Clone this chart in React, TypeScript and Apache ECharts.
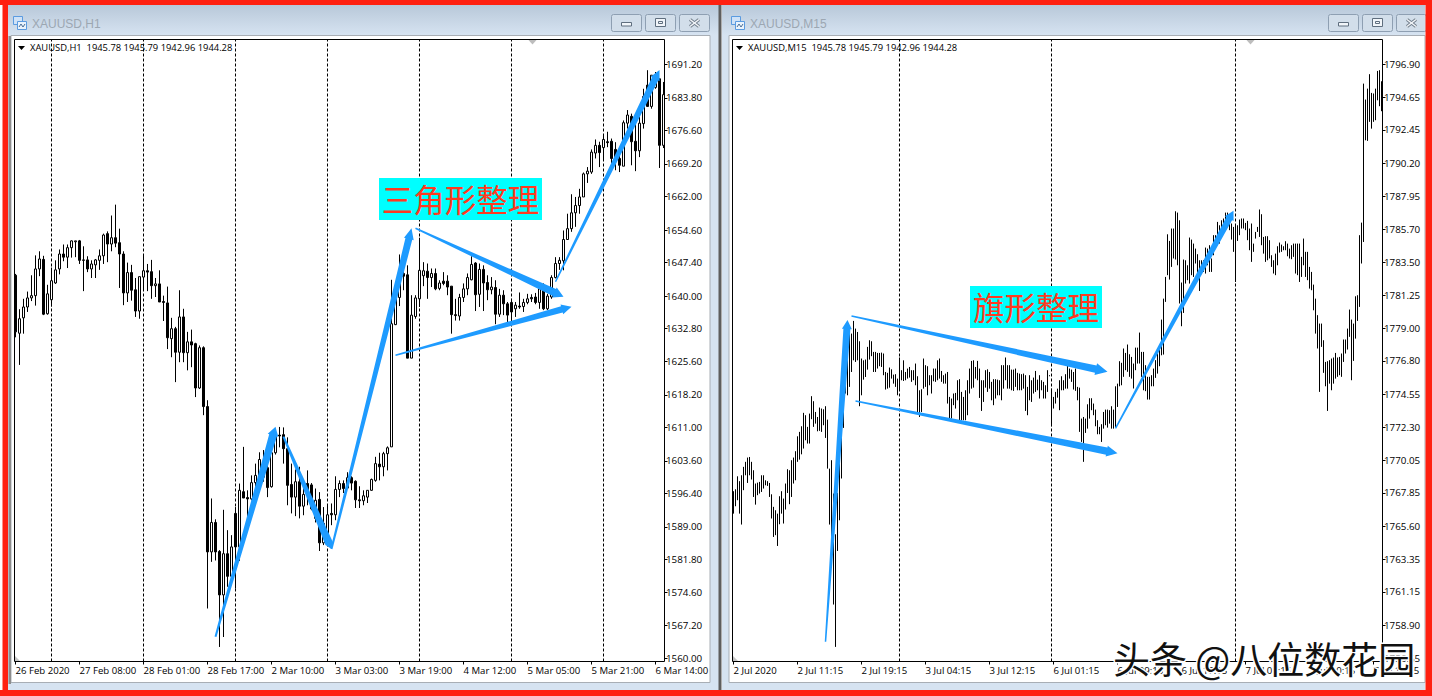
import React, { useEffect, useRef } from "react";
import * as echarts from "echarts";

// ---------- H1 chart: [open, close, low, high] ----------
const h1FebCandles: number[][] = [
  [1644.6,1632.1,1630.9,1644.9],[1631.8,1635,1624.8,1637.1],[1635.2,1637.6,1631.7,1639.4],[1637.6,1639.6,1636.5,1641],
  [1639.6,1640.1,1638.9,1644.6],[1640.1,1646,1637.9,1649],[1646,1648.2,1644.4,1649.9],[1648.1,1636,1635.8,1648.9],
  [1636.1,1640.5,1635.9,1642.5],[1639.2,1643.4,1637.7,1646.3],[1642.9,1645.8,1642.7,1647.9],[1646,1649.3,1644.8,1650.3],
  [1649.3,1648.6,1647.7,1651.4],[1648.6,1650.7,1646.2,1651.4],[1650.7,1652.2,1648.5,1652.3],[1652,1652.2,1648.6,1652.2],
  [1652.2,1647.9,1647.1,1652.4],[1648,1647.9,1641.1,1651],[1648,1646,1645.3,1648.8],[1646,1647.1,1644,1647.9],
  [1646.9,1648,1644,1648.2],[1647.9,1648.9,1645.8,1650.3],[1648.9,1653.5,1647.1,1653.8],[1653.8,1651.5,1647.5,1654.3],
  [1651.5,1652.9,1649.9,1657.8],[1652.9,1651.7,1650.8,1660.2],[1651.8,1649.3,1641.8,1654.9],[1649.3,1640.7,1638,1649.9],
  [1640.7,1645.2,1638.7,1647.4],[1645.2,1641.3,1639,1646.9],[1641.4,1636.7,1635.4,1644],[1636.7,1644.3,1635,1644.3],
  [1644.2,1645.6,1641.3,1649.3],[1645.6,1645.3,1641.1,1647.1],[1645.4,1642.3,1639.4,1648],[1642.3,1642.7,1639.8,1644],
  [1642.7,1638.7,1638.7,1645.7],[1638.8,1638.6,1634.5,1640.1],[1638.5,1630.8,1628.3,1642.1],[1630.6,1632.8,1626.5,1635.2],
  [1632.8,1627.6,1621,1633.2],[1627.6,1635.4,1625.4,1641.3],[1635.4,1627.5,1625.4,1637.2],[1627.5,1629.9,1623.6,1632.1],
  [1629.9,1629.2,1624.3,1632.6],[1629.5,1619.7,1617.7,1629.7],[1619.7,1628.6,1619.5,1629.1],[1628.6,1615.6,1613.7,1628.9],
  [1615.6,1583.5,1571,1617],
];
const h1TurnCandles: number[][] = [
  [1583.5,1590,1581.3,1595.3],[1590,1583.5,1581.6,1590.7],[1583.6,1574,1562.5,1583.9],[1574,1583.1,1564.7,1592.8],
  [1583.1,1578.1,1575.8,1588.3],[1578.1,1584.6,1578,1587.2],[1592,1584.6,1575.4,1593.4],[1584.6,1597.1,1581.5,1598.6],
  [1596.8,1595.4,1595.4,1606.7],[1595.5,1595.2,1591.2,1597.1],[1595.2,1598.8,1594.9,1600.4],[1598.8,1600.4,1596.7,1603],
  [1600.4,1603.9,1599,1605.5],[1600,1602.5,1599,1606],[1602.1,1597.7,1595.6,1606],[1597.9,1605.4,1597.7,1606.7],
  [1605.4,1609,1605,1610],[1609.3,1609.1,1606.6,1611.1],[1609.4,1606.3,1603,1611],[1606.3,1598.2,1593.8,1608.8],
  [1598.4,1595.6,1592,1603],[1595.6,1599,1591.4,1601.7],[1599,1593.6,1590.9,1602.3],[1593.6,1596.2,1591.6,1599.3],
  [1598.6,1596.4,1593.8,1601.5],[1598.3,1593,1592.7,1598.7],[1590.9,1594.9,1590,1597.5],[1595.1,1585.5,1583.7,1596.7],
  [1585.5,1589.8,1585,1593.4],[1587.5,1591.7,1585.3,1593.8],[1592,1591.7,1589.4,1594.2],[1591.7,1597.3,1590.5,1600.2],
  [1597.3,1598.6,1595.6,1599.3],[1598.6,1597.5,1596.5,1599.3],[1597.6,1599.9,1597.4,1601.1],[1599.9,1598.7,1597.1,1600.2],
  [1599.1,1595,1593.2,1599.3],[1595,1594.8,1593.2,1598],[1594.8,1595.9,1593.8,1597.1],[1595.6,1597.1,1594.3,1597.1],
  [1597.1,1599.5,1597,1599.7],[1599.3,1603,1599,1604.5],[1602.9,1602.3,1599.3,1605.4],[1602.3,1605.2,1600.2,1605.6],
  [1605.2,1606.5,1601.5,1606.8],[1606.7,1633.9,1606.7,1643.6],
];
const h1MarCandles: number[][] = [
  [1633.7,1640.5,1633.6,1641.3],[1639.7,1644.6,1637.8,1649.2],[1645,1644.4,1641.3,1647.2],[1644.7,1626.3,1626.3,1646.8],
  [1626.3,1635.8,1626.3,1640.2],[1635.5,1639.6,1635,1640.2],[1639.4,1645.7,1637.6,1652.9],[1644.5,1645.6,1642.2,1647.5],
  [1645.5,1644.1,1639.4,1647.2],[1644.1,1645,1642,1646.1],[1645,1641.6,1641.3,1646.1],[1641.7,1642.9,1641.3,1643.5],
  [1643.3,1642.8,1642.4,1645.3],[1643.3,1642,1640.2,1644.6],[1642.2,1635.9,1631.7,1642.2],[1635.9,1635.7,1634.6,1639.4],
  [1635.6,1639.7,1634.6,1640.5],[1639.7,1641.6,1638.7,1642.8],[1641.6,1644.1,1640.2,1645],[1643.6,1647,1643.5,1648.8],
  [1647.3,1640.3,1636.7,1647.5],[1640.4,1645.9,1637.6,1647.2],[1645.9,1642.9,1636.7,1646.8],[1643,1641.4,1639.1,1644.6],
  [1641.4,1642,1640.4,1644.2],[1641.9,1636,1633.8,1643.5],[1636,1640.2,1635.4,1641.6],[1640.2,1638.3,1635.8,1641.3],
  [1638.3,1635.8,1634.1,1638.7],[1638.6,1636.5,1634.6,1639.4],[1637.2,1638,1635.4,1638.7],[1637.8,1637.6,1637.2,1640.8],
  [1637.7,1638.6,1636.5,1639.4],[1638.6,1639.4,1638.2,1640.5],[1639.7,1639.4,1638.7,1640.4],[1639.8,1638.6,1638.2,1640.7],
  [1638.6,1641.6,1637.2,1642],[1641.6,1637.2,1636.9,1642.8],[1637.2,1640,1636.9,1640.5],[1639.8,1644.1,1639.4,1644.6],
  [1644.1,1647.2,1643.9,1648.6],[1647.2,1647.9,1645.8,1648.6],[1647.8,1652.5,1645.7,1654.5],[1652.5,1654.9,1652.4,1658.2],
  [1654.9,1658.4,1654.2,1662.5],[1658.4,1660,1655.3,1661.9],[1660,1661.9,1658.2,1663.7],[1661.9,1667,1661.9,1667.3],
  [1667,1667.6,1665,1668.5],[1667.4,1671.8,1667,1672.4],[1671.6,1673.3,1670.4,1674.6],[1673.3,1671.7,1668.5,1674.1],
  [1672.8,1674.6,1670.2,1675.5],[1674.1,1673.9,1672.9,1676.3],[1674.2,1670.4,1669.3,1674.8],[1672.4,1670.4,1667.8,1674],
  [1670.4,1668.9,1667.4,1671.5],[1668.7,1678.3,1668.7,1678.8],[1678.2,1680,1677,1681.1],[1679.7,1674.1,1668.9,1680.3],
  [1674.2,1672.1,1667.6,1679.6],[1672.1,1678.2,1670.7,1679.6],[1678.1,1684.1,1677,1685.8],[1686.6,1681.9,1681.8,1689.9],
  [1681.9,1688.8,1681.4,1688.8],[1686.1,1688.6,1685.8,1689.5],[1688,1673.3,1668.3,1688],[1673.3,1684.5,1672.7,1687.3],
];
const h1PriceTicks = [1560,1567.2,1574.6,1581.8,1589,1596.4,1603.6,1611,1618.2,1625.6,1632.8,1640,1647.4,1654.6,1662,1669.2,1676.6,1683.8,1691.2];
const h1TimeLabels = ["26 Feb 2020","27 Feb 08:00","28 Feb 01:00","28 Feb 17:00","2 Mar 10:00","3 Mar 03:00","3 Mar 19:00","4 Mar 12:00","5 Mar 05:00","5 Mar 21:00","6 Mar 14:00"];
const h1SessionBars = [9,32,55,78,101,124,147];
// tail bar, tail price, head bar, head price
const h1Arrows: number[][] = [
  [50.3,1564.77,64.875,1611.16],[67.375,1608.95,78.8,1584.14],[78.8,1584.14,99.2,1654.98],
  [100.1,1654.98,136.95,1639.87],[94.6,1626.93,139.2,1637.66],[134.9,1643.18,161.1,1689.94],
];

// ---------- M15 chart: highs and lows ----------
const m15High = [
1767.97,1768.10,1768.98,1768.65,1769.05,1769.62,1769.96,1770.25,1770.29,1769.96,1769.39,1768.49,1768.55,1768.60,1769.05,1769.05,1768.71,1768.65,1768.53,1767.76,
1766.91,1766.68,1766.45,1767.63,1767.97,1767.47,1768.49,1769.46,1769.39,1770.07,1770.25,1770.68,1771.69,1771.99,1772.37,1773.28,1773.12,1772.33,1773.23,1774.41,
1774.07,1773.34,1773.00,1773.64,1773.57,1773.52,1773.73,1772.82,1769.50,1770.07,1767.81,1765.05,1767.85,1770.29,1772.10,1773.91,1777.30,1778.20,1778.76,1778.65,
1779.51,1778.99,1778.76,1778.13,1776.96,1776.84,1776.89,1777.75,1778.20,1778.13,1777.41,1777.41,1777.34,1777.34,1777.36,1777.30,1776.05,1775.99,1776.35,1776.23,
1775.87,1775.90,1775.60,1777.03,1776.17,1776.84,1776.05,1776.28,1776.39,1776.17,1776.17,1776.62,1775.76,1774.81,1774.88,1776.96,1776.51,1776.44,1775.83,1775.83,
1776.28,1776.28,1776.84,1776.96,1776.12,1775.83,1775.94,1776.05,1774.36,1774.25,1774.59,1774.63,1775.49,1775.56,1774.70,1774.36,1774.81,1775.49,1776.28,1776.80,
1776.84,1776.39,1776.80,1776.28,1775.49,1775.49,1776.17,1776.23,1776.05,1775.38,1775.56,1775.56,1775.53,1775.49,1776.51,1776.51,1777.03,1776.51,1776.51,1776.21,
1776.21,1776.28,1775.99,1775.94,1775.90,1775.94,1775.83,1775.04,1775.83,1775.49,1775.67,1776.12,1775.53,1775.83,1775.49,1775.38,1775.15,1776.17,1775.83,1774.92,
1774.36,1774.70,1774.92,1775.49,1775.76,1775.49,1775.90,1776.46,1776.28,1776.21,1776.05,1776.28,1775.04,1774.99,1772.89,1773.00,1772.89,1773.86,1774.27,1774.27,
1773.91,1773.50,1772.78,1772.33,1772.51,1773.34,1773.50,1773.50,1773.46,1773.73,1773.50,1775.08,1775.26,1776.78,1776.67,1777.64,1777.34,1777.91,1777.25,1777.07,
1776.62,1777.70,1777.70,1778.72,1777.41,1777.41,1776.51,1775.72,1775.72,1775.83,1776.28,1776.85,1777.30,1777.75,1779.60,1781.02,1782.49,1785.38,1784.93,1785.77,
1785.77,1786.94,1786.85,1786.33,1782.11,1783.67,1783.62,1783.28,1785.16,1785.02,1784.75,1784.41,1784.03,1783.62,1783.62,1783.62,1784.48,1784.41,1784.64,1783.74,
1785.32,1785.32,1786.22,1785.99,1786.33,1786.45,1786.85,1786.85,1786.33,1786.11,1785.88,1785.99,1785.99,1786.38,1786.45,1786.45,1786.15,1786.29,1785.77,1786.11,
1784.75,1785.54,1785.88,1787.06,1786.74,1785.20,1785.25,1785.25,1784.98,1783.96,1783.62,1784.07,1784.57,1784.82,1784.68,1784.57,1784.91,1784.75,1784.41,1784.64,
1784.75,1784.75,1784.75,1784.75,1783.85,1785.09,1784.19,1784.19,1783.17,1782.83,1781.97,1781.02,1779.90,1779.33,1779.33,1778.20,1776.73,1776.78,1776.85,1776.96,
1777.03,1777.34,1777.03,1777.07,1777.30,1778.25,1778.25,1778.99,1780.28,1779.60,1779.33,1781.18,1781.25,1785.32,1786.17,1795.59,1794.51,1795.25,1796.23,1794.96,
1794.92,1795.25,1796.45,1796.50,1795.75,
];
const m15Low = [
1766.45,1766.95,1767.36,1766.45,1765.71,1768.04,1769.05,1768.53,1769.05,1768.76,1767.58,1767.06,1767.70,1767.81,1767.92,1768.15,1768.37,1768.33,1767.58,1766.12,
1764.87,1764.99,1764.26,1765.73,1766.45,1765.78,1766.73,1767.85,1767.09,1767.58,1768.49,1768.71,1769.96,1770.11,1770.47,1770.86,1771.42,1771.20,1771.20,1772.85,
1772.33,1772.55,1772.03,1772.06,1771.99,1772.44,1771.58,1769.50,1765.71,1762.80,1760.29,1757.42,1763.92,1766.00,1768.83,1772.26,1774.59,1774.47,1775.04,1776.05,
1776.84,1776.73,1776.84,1773.73,1774.47,1775.53,1775.71,1776.21,1776.89,1777.12,1776.05,1776.05,1776.28,1776.44,1776.39,1775.83,1774.86,1774.92,1774.99,1775.60,
1775.26,1775.04,1774.47,1774.81,1775.49,1775.44,1775.49,1775.60,1775.67,1775.38,1775.49,1775.15,1773.23,1773.00,1773.34,1774.92,1775.04,1774.47,1775.15,1774.59,
1775.42,1775.38,1775.49,1775.60,1775.38,1775.26,1775.26,1773.91,1772.89,1772.89,1773.80,1773.57,1774.13,1772.78,1772.78,1772.78,1772.78,1773.12,1774.59,1774.92,
1774.99,1775.60,1775.49,1774.29,1773.41,1774.02,1774.99,1774.70,1774.92,1774.13,1773.80,1774.25,1774.47,1774.47,1774.13,1774.92,1775.49,1774.92,1774.92,1774.81,
1774.77,1775.04,1774.81,1774.81,1774.81,1774.92,1773.41,1773.12,1774.13,1774.02,1774.59,1774.70,1774.81,1774.25,1774.81,1774.25,1774.25,1774.70,1775.76,1772.37,
1773.57,1773.91,1774.31,1773.46,1774.81,1774.81,1774.92,1774.92,1775.60,1775.38,1774.86,1774.77,1774.13,1771.99,1771.31,1769.96,1771.92,1772.21,1772.89,1773.46,
1773.12,1772.37,1771.83,1771.83,1771.31,1772.21,1772.44,1772.28,1772.55,1772.21,1772.21,1772.33,1773.68,1775.08,1775.15,1775.72,1776.17,1776.06,1775.72,1775.60,
1774.93,1776.17,1776.62,1776.62,1775.72,1774.81,1774.75,1774.18,1774.18,1775.08,1775.08,1775.65,1775.94,1776.44,1777.18,1777.23,1780.80,1782.61,1782.31,1783.17,
1783.74,1783.67,1783.28,1780.69,1779.15,1780.05,1782.04,1782.27,1782.04,1782.61,1782.49,1783.40,1782.31,1781.54,1783.06,1782.83,1782.72,1783.28,1782.83,1782.83,
1783.96,1784.53,1784.86,1784.75,1785.43,1785.54,1785.66,1786.22,1785.66,1785.02,1784.19,1782.15,1784.93,1785.32,1785.77,1785.77,1785.66,1784.98,1784.30,1783.51,
1784.19,1785.09,1785.54,1785.20,1784.64,1784.07,1783.51,1783.62,1783.74,1783.17,1782.72,1782.61,1783.28,1784.14,1784.19,1784.30,1784.30,1783.89,1783.74,1783.69,
1783.85,1782.72,1782.61,1782.15,1782.49,1783.28,1782.49,1782.27,1781.70,1781.59,1780.23,1778.65,1777.64,1774.70,1777.75,1775.99,1775.08,1773.41,1775.26,1774.81,
1775.26,1775.60,1775.72,1775.83,1775.72,1776.73,1777.30,1777.57,1778.43,1775.49,1776.80,1778.31,1779.51,1780.46,1783.40,1784.86,1791.75,1791.71,1793.00,1792.54,
1793.00,1793.11,1794.46,1794.06,1793.72,
];
const m15PriceTicks = [1756.65,1758.9,1761.15,1763.35,1765.6,1767.85,1770.05,1772.3,1774.55,1776.8,1779,1781.25,1783.5,1785.7,1787.95,1790.2,1792.45,1794.65,1796.9];
const m15TimeLabels = ["2 Jul 2020","2 Jul 11:15","2 Jul 19:15","3 Jul 04:15","3 Jul 12:15","6 Jul 01:15","6 Jul 09:15","6 Jul 17:15","7 Jul 01:15","7 Jul 10:15","7 Jul 18:15"];
const m15SessionBars = [83,159,251];
const m15Arrows: number[][] = [
  [45.9,1757.77,56.75,1779.57],[59.25,1779.84,187.4,1776.07],[60.75,1774.08,192.4,1770.54],[190.75,1772.23,249.9,1786.98],
];

const FONT = "Open Sans";
const BLUE = "#1E9BFF";
const h1Candles = [...h1FebCandles, ...h1TurnCandles, ...h1MarCandles];

function arrowRender(sizes: number[][]) {
  return (params: any, api: any) => {
    const a = api.coord([api.value(0), api.value(1)]);
    const b = api.coord([api.value(2), api.value(3)]);
    const [w0, w1, hw, hl] = sizes[params.dataIndex];
    const dx = b[0] - a[0], dy = b[1] - a[1];
    const L = Math.hypot(dx, dy);
    const ux = dx / L, uy = dy / L, nx = -uy, ny = ux;
    const nk = [b[0] - ux * hl, b[1] - uy * hl];
    const at = (p: number[], w: number) => [p[0] + (nx * w) / 2, p[1] + (ny * w) / 2];
    return {
      type: "polygon",
      shape: {
        points: [at(a, w0), at(nk, w1), at(nk, hw), b, at(nk, -hw), at(nk, -w1), at(a, -w0)],
      },
      style: { fill: BLUE },
      silent: true,
    };
  };
}
const h1ArrowSizes = [[2,8,11,9],[2,8,8,6],[2,7,10,11],[1.5,7.5,11,10],[1.5,6.5,10,10],[1.5,7,10,10]];
const m15ArrowSizes = [[1.5,7,10,9],[1.5,7.5,12,12],[1.5,7.5,11,11],[1.5,6.5,10,9]];

function windowChrome(x0: number, x1: number, panelX0: number, panelX1: number, iconX: number, title: string, titleX: number, btnX: number[], header: string, headerX: number, plotX0: number, plotX1: number, markerX: number, arrowX: number) {
  const els: any[] = [];
  const z = -2;
  const rect = (x: number, y: number, w: number, h: number, style: any, zz = z) =>
    els.push({ type: "rect", shape: { x, y, width: w, height: h }, style, z: zz, silent: true });
  rect(x0, 5, x1 - x0, 685, { fill: "#D6E3F1" });
  rect(x0, 5, x1 - x0, 30, {
    fill: new echarts.graphic.LinearGradient(0, 0, 0, 1, [
      { offset: 0, color: "#B8C8D9" },
      { offset: 1, color: "#D6E3F1" },
    ]),
  });
  rect(panelX0, 35.5, panelX1 - panelX0, 647, { fill: "#FFFFFF", stroke: "#A8AEB5", lineWidth: 1 });
  // title icon
  rect(iconX + 0.5, 16.5, 9, 8, { fill: "#CFE2F7", stroke: "#5B9BE0", lineWidth: 1 });
  rect(iconX + 4.5, 21.5, 9, 8, { fill: "#EAF3FC", stroke: "#5B9BE0", lineWidth: 1 });
  els.push({ type: "polyline", shape: { points: [[iconX + 6, 27], [iconX + 8, 24], [iconX + 10, 27], [iconX + 12, 24]] }, style: { stroke: "#4A6D94", fill: "none", lineWidth: 1 }, z: -1, silent: true });
  els.push({ type: "text", x: titleX, y: 23.5, style: { text: title, fill: "#9CA7B2", font: "12px 'Liberation Sans'", verticalAlign: "middle" }, z: -1, silent: true });
  // caption buttons
  btnX.forEach((bx, i) => {
    els.push({ type: "rect", shape: { x: bx + 0.5, y: 14.5, width: 30, height: 17, r: 2 }, style: { fill: "#D2DEEA", stroke: "#8E9FB2", lineWidth: 1 }, z: -1, silent: true });
    const cx = bx + 15.5, cy = 23;
    if (i === 0) rect(cx - 5, cy - 0.5, 10, 3.5, { fill: "#F1F5F9", stroke: "#5F6E7E", lineWidth: 1 }, -1);
    if (i === 1) {
      rect(cx - 5, cy - 4.5, 10, 8, { fill: "#F1F5F9", stroke: "#5F6E7E", lineWidth: 1 }, -1);
      rect(cx - 2, cy - 1.5, 4, 2, { fill: "#F1F5F9", stroke: "#5F6E7E", lineWidth: 1 }, -1);
    }
    if (i === 2) {
      const cross = (stroke: string, lineWidth: number, zz: number) => {
        els.push({ type: "line", shape: { x1: cx - 4.5, y1: cy - 3.5, x2: cx + 4.5, y2: cy + 3.5 }, style: { stroke, lineWidth }, z: zz, silent: true });
        els.push({ type: "line", shape: { x1: cx + 4.5, y1: cy - 3.5, x2: cx - 4.5, y2: cy + 3.5 }, style: { stroke, lineWidth }, z: zz, silent: true });
      };
      cross("#737F8C", 3.4, -1);
      cross("#F4F7FA", 1.4, -0.5);
    }
  });
  // plot frame and header
  rect(plotX0, 39.5, plotX1 - plotX0, 622, { fill: "none", stroke: "#000", lineWidth: 1 }, 6);
  els.push({ type: "polygon", shape: { points: [[arrowX, 46], [arrowX + 7, 46], [arrowX + 3.5, 50]] }, style: { fill: "#000" }, z: 6, silent: true });
  els.push({ type: "text", x: headerX, y: 47.5, style: { text: header, fill: "#000", font: `9.4px '${FONT}'`, verticalAlign: "middle" }, z: 6, silent: true });
  els.push({ type: "polygon", shape: { points: [[markerX - 4, 40], [markerX + 4, 40], [markerX, 44.5]] }, style: { fill: "#BDBDBD" }, z: 6, silent: true });
  els.push({ type: "polygon", shape: { points: [[plotX0 + 0.5, 656], [plotX0 + 5.5, 661], [plotX0 + 0.5, 661]] }, style: { fill: "#C4C4C4" }, z: 6, silent: true });
  return els;
}

const tagText = (text: string, cx: number, cy: number) => ({
  type: "text",
  x: cx,
  y: cy,
  style: { text, fill: "#FF3A20", font: "31.5px 'Noto Sans CJK SC'", align: "center", verticalAlign: "middle" },
  z: 9,
  silent: true,
});

export default function App() {
  const ref = useRef<HTMLDivElement>(null);
  useEffect(() => {
    document.body.style.margin = "0";
    const chart = echarts.init(ref.current!, undefined, { renderer: "svg" });

    const xAxisBase = (count: number, labels: string[], every: number) => ({
      type: "category" as const,
      data: Array.from({ length: count }, (_, i) => String(i)),
      boundaryGap: true,
      axisLine: { show: false },
      splitLine: { show: false },
      axisTick: { show: true, interval: every - 1, alignWithLabel: true, length: 3, lineStyle: { color: "#000" }, inside: false },
      axisLabel: {
        show: true,
        interval: every - 1,
        align: "left" as const,
        margin: 4,
        color: "#000",
        fontFamily: FONT,
        fontSize: 9.6,
        padding: [0, 1.5, 0, 0],
        formatter: (_: string, i: number) => labels[Math.round(i / every)] ?? "",
        hideOverlap: false,
      },
    });
    const yAxisBase = (ticks: number[], min: number, max: number, offset: number) => ({
      type: "value" as const,
      position: "right" as const,
      min,
      max,
      offset,
      splitLine: { show: false },
      axisLine: { show: false },
      axisTick: { show: true, customValues: ticks, length: 3, lineStyle: { color: "#000" } },
      axisLabel: {
        show: true,
        customValues: ticks,
        margin: 1.5,
        color: "#000",
        fontFamily: FONT,
        fontSize: 9.8,
        formatter: (v: number) => v.toFixed(2),
      },
    });
    const sessions = (bars: number[]) => ({
      silent: true,
      symbol: "none",
      z: 1,
      animation: false,
      label: { show: false },
      lineStyle: { color: "#000", type: [3, 2] as number[], width: 1 },
      data: bars.map((b) => ({ xAxis: b })),
    });

    const option: any = {
      animation: false,
      backgroundColor: "#fff",
      tooltip: { show: false },
      grid: [
        { left: 13.5, top: 39.5, width: 652, height: 622, containLabel: false },
        { left: 732.5, top: 39.5, width: 652, height: 622, containLabel: false },
      ],
      xAxis: [
        { gridIndex: 0, ...xAxisBase(h1Candles.length, h1TimeLabels, 16) },
        { gridIndex: 1, ...xAxisBase(326, m15TimeLabels, 32) },
      ],
      yAxis: [
        { gridIndex: 0, ...yAxisBase(h1PriceTicks, 1559.29, 1696.68, -1) },
        { gridIndex: 1, ...yAxisBase(m15PriceTicks, 1756.43, 1798.58, -2) },
      ],
      series: [
        {
          type: "candlestick",
          name: "XAUUSD,H1",
          xAxisIndex: 0,
          yAxisIndex: 0,
          barWidth: 2,
          z: 2,
          data: h1Candles,
          itemStyle: { color: "#fff", color0: "#000", borderColor: "#000", borderColor0: "#000", borderColorDoji: "#000", borderWidth: 1 },
          markLine: sessions(h1SessionBars),
        },
        {
          type: "custom",
          name: "XAUUSD,M15",
          xAxisIndex: 1,
          yAxisIndex: 1,
          z: 2,
          encode: { x: 0, y: [1, 2] },
          data: m15High.map((h, i) => [i, h, m15Low[i]]),
          renderItem: (_: any, api: any) => {
            const t = api.coord([api.value(0), api.value(1)]);
            const b = api.coord([api.value(0), api.value(2)]);
            return {
              type: "line",
              shape: { x1: t[0], y1: t[1], x2: b[0], y2: b[1] },
              style: { stroke: "#000", lineWidth: 1 },
              silent: true,
            };
          },
          markLine: sessions(m15SessionBars),
        },
        {
          type: "custom",
          name: "h1 arrows",
          xAxisIndex: 0,
          yAxisIndex: 0,
          z: 4,
          encode: { x: 0, y: 1 },
          data: h1Arrows,
          renderItem: arrowRender(h1ArrowSizes),
        },
        {
          type: "custom",
          name: "m15 arrows",
          xAxisIndex: 1,
          yAxisIndex: 1,
          z: 4,
          encode: { x: 0, y: 1 },
          data: m15Arrows,
          renderItem: arrowRender(m15ArrowSizes),
        },
      ],
      graphic: {
        elements: [
          ...windowChrome(8, 719, 11, 710, 13, "XAUUSD,H1", 32, [611, 645, 679], "XAUUSD,H1  1945.78 1945.79 1942.96 1944.28", 30, 14.5, 664.5, 532.5, 18),
          ...windowChrome(722, 1425, 729, 1425, 731, "XAUUSD,M15", 750, [1328, 1362, 1396], "XAUUSD,M15  1945.78 1945.79 1942.96 1944.28", 748, 732.5, 1382.5, 1250.5, 736),
          { type: "rect", shape: { x: 718.5, y: 5, width: 3, height: 685 }, style: { fill: "#5E5E5E" }, z: -1, silent: true },
          { type: "rect", shape: { x: 8.5, y: 36, width: 2.5, height: 648 }, style: { fill: "#8C8C8C" }, z: -1, silent: true },
          // page border
          { type: "rect", shape: { x: 0, y: 0, width: 1432, height: 5 }, style: { fill: "#FF2010" }, z: 8, silent: true },
          { type: "rect", shape: { x: 2.5, y: 0, width: 5.5, height: 696 }, style: { fill: "#FF2010" }, z: 8, silent: true },
          { type: "rect", shape: { x: 0, y: 690, width: 1432, height: 6 }, style: { fill: "#FF2010" }, z: 8, silent: true },
          { type: "rect", shape: { x: 1425.5, y: 0, width: 6.5, height: 696 }, style: { fill: "#FF2010" }, z: 8, silent: true },
          // tags
          { type: "rect", shape: { x: 379, y: 178, width: 163, height: 42 }, style: { fill: "#00FFFF" }, z: 8, silent: true },
          tagText("三角形整理", 460.5, 197.5),
          { type: "rect", shape: { x: 970, y: 286, width: 132, height: 42 }, style: { fill: "#00FFFF" }, z: 8, silent: true },
          tagText("旗形整理", 1036, 305.5),
          // watermark
          {
            type: "text",
            x: 1113,
            y: 658,
            style: { text: "头条 @八位数花园", fill: "#111", font: "37px 'Noto Sans CJK SC'", verticalAlign: "middle", stroke: "#fff", lineWidth: 3 },
            z: 10,
            silent: true,
          },
        ],
      },
    };
    chart.setOption(option);
    return () => chart.dispose();
  }, []);
  return <div ref={ref} style={{ position: "fixed", left: 0, top: 0, width: 1432, height: 696 }} />;
}
